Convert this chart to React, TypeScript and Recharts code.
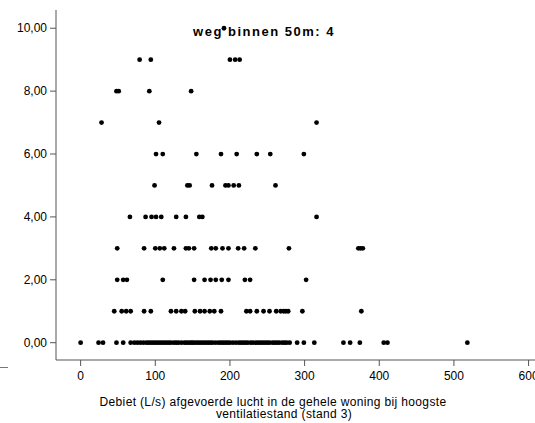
import { Scatter, ScatterChart, XAxis, YAxis } from "recharts";

// x values (L/s) per y level
const level0 = [
  0, 24, 30, 48, 57, 67, 72, 76, 80, 84, 88, 91, 94, 97, 100, 103, 106, 109, 112, 115, 118, 121,
  125, 128, 131, 135, 139, 142, 145, 148, 150, 153, 156, 159, 162, 165, 168, 171, 174, 177, 181,
  185, 188, 191, 194, 197, 200, 204, 208, 212, 215, 218, 221, 224, 228, 231, 235, 238, 241, 244,
  247, 250, 253, 257, 260, 263, 266, 270, 273, 276, 280, 290, 299, 313, 352, 361, 374, 406, 411,
  518,
];
const level1 = [
  45, 55, 61, 67, 85, 94, 121, 128, 135, 140, 153, 160, 166, 173, 179, 188, 222, 227, 236, 245,
  253, 262, 268, 272, 275, 278, 297, 376,
];
const level2 = [49, 57, 62, 110, 152, 166, 174, 181, 189, 198, 220, 227, 302];
const level3 = [
  49, 85, 100, 106, 112, 125, 141, 145, 152, 175, 181, 190, 198, 211, 219, 234, 279, 372, 375, 378,
];
const level4 = [66, 87, 95, 101, 108, 128, 141, 159, 163, 316];
const level5 = [99, 143, 146, 176, 194, 198, 205, 212, 261];
const level6 = [101, 110, 155, 188, 209, 236, 254, 299];
const level7 = [28, 105, 316];
const level8 = [48, 51, 92, 148];
const level9 = [79, 94, 200, 207, 213];
const level10 = [192];

const levels = [level0, level1, level2, level3, level4, level5, level6, level7, level8, level9, level10];
const yTicks = [0, 2, 4, 6, 8, 10];
const xTicks = [0, 100, 200, 300, 400, 500, 600];

const points = levels.flatMap((xs, y) => xs.map((x) => ({ x, y })));

const font = "'Liberation Sans', Arial, sans-serif";
const axisColor = "#555";

const Dot = (props: any) => <circle cx={props.cx} cy={props.cy} r={2.4} fill="#000" />;

export default function App() {
  return (
    <div
      style={{
        position: "absolute",
        left: 0,
        top: 0,
        width: 535,
        height: 423,
        overflow: "hidden",
        background: "#fff",
        fontFamily: font,
      }}
    >
      <div
        style={{
          position: "absolute",
          left: 114,
          width: 300,
          top: 25,
          textAlign: "center",
          fontWeight: "bold",
          fontSize: 13,
          lineHeight: "13px",
          letterSpacing: 1.5,
          whiteSpace: "nowrap",
        }}
      >
        weg binnen 50m: 4
      </div>
      <div style={{ position: "absolute", left: 0, top: 0 }}>
        <ScatterChart width={560} height={423} margin={{ top: 10, right: 15, bottom: 0, left: 0 }}>
          <XAxis
            type="number"
            dataKey="x"
            domain={[-33, 622]}
            ticks={xTicks}
            allowDataOverflow
            height={63}
            tickSize={6}
            tickMargin={5}
            stroke={axisColor}
            tick={{ fill: "#000", fontSize: 12, fontFamily: font }}
          />
          <YAxis
            type="number"
            dataKey="y"
            domain={[-0.55, 10.58]}
            ticks={yTicks}
            allowDataOverflow
            width={56}
            tickSize={6}
            tickMargin={3}
            stroke={axisColor}
            tickFormatter={(v: number) => v.toFixed(2).replace(".", ",")}
            tick={{ fill: "#000", fontSize: 12, fontFamily: font }}
          />
          <Scatter data={points} shape={Dot} isAnimationActive={false} />
        </ScatterChart>
      </div>
      <div
        style={{
          position: "absolute",
          left: 0,
          top: 367,
          width: 8,
          height: 1,
          background: "#777",
        }}
      />
      <div
        style={{
          position: "absolute",
          left: 73,
          width: 400,
          top: 396,
          textAlign: "center",
          fontSize: 12,
          lineHeight: "12px",
          letterSpacing: 0.35,
          whiteSpace: "nowrap",
        }}
      >
        Debiet (L/s) afgevoerde lucht in de gehele woning bij hoogste
      </div>
      <div
        style={{
          position: "absolute",
          left: 84,
          width: 400,
          top: 408,
          textAlign: "center",
          fontSize: 12,
          lineHeight: "12px",
          letterSpacing: 0.35,
          whiteSpace: "nowrap",
        }}
      >
        ventilatiestand (stand 3)
      </div>
    </div>
  );
}
